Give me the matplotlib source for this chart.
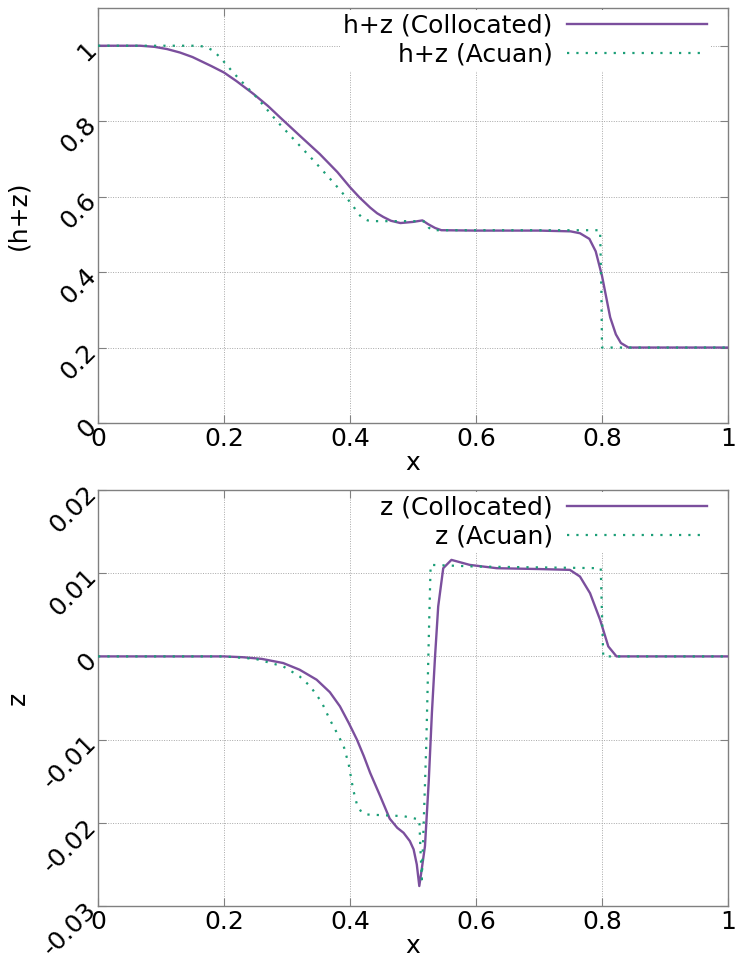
import matplotlib
matplotlib.use("Agg")
import matplotlib.pyplot as plt
import numpy as np

plt.rcParams['font.family'] = ['DejaVu Sans']

# ---- data: top panel (h+z) ----
hz_col_x = [0, 0.067, 0.09, 0.11, 0.13, 0.15, 0.165, 0.18, 0.2, 0.22, 0.247, 0.27, 0.289,
            0.32, 0.352, 0.38, 0.4, 0.415, 0.432, 0.443, 0.453, 0.465, 0.48, 0.50, 0.515,
            0.524, 0.535, 0.545, 0.6, 0.7, 0.75, 0.765, 0.78, 0.79, 0.80, 0.813, 0.822,
            0.83, 0.842, 0.9, 1.0]
hz_col_y = [1.0, 1.0, 0.997, 0.991, 0.982, 0.970, 0.958, 0.946, 0.929, 0.906, 0.872, 0.840,
            0.810, 0.762, 0.713, 0.665, 0.625, 0.598, 0.571, 0.556, 0.546, 0.536, 0.530,
            0.533, 0.537, 0.527, 0.517, 0.511, 0.510, 0.510, 0.508, 0.503, 0.488, 0.455,
            0.390, 0.280, 0.235, 0.212, 0.200, 0.200, 0.200]

hz_acu_x = [0, 0.16, 0.172, 0.183, 0.195, 0.215, 0.252, 0.284, 0.347, 0.375, 0.395, 0.405,
            0.413, 0.42, 0.428, 0.44, 0.5, 0.52, 0.525, 0.53, 0.6, 0.7, 0.797, 0.799,
            0.8, 0.801, 1.0]
hz_acu_y = [1.0, 1.0, 0.996, 0.987, 0.967, 0.928, 0.863, 0.800, 0.687, 0.635, 0.596, 0.575,
            0.555, 0.543, 0.537, 0.535, 0.535, 0.534, 0.518, 0.511, 0.511, 0.511, 0.511,
            0.350, 0.200, 0.200, 0.200]

# ---- data: bottom panel (z) ----
z_col_x = [0, 0.2, 0.23, 0.26, 0.294, 0.32, 0.347, 0.368, 0.384, 0.398, 0.411, 0.422, 0.432,
           0.448, 0.463, 0.475, 0.485, 0.495, 0.501, 0.506, 0.510, 0.514, 0.519, 0.525,
           0.530, 0.535, 0.540, 0.548, 0.561, 0.59, 0.633, 0.70, 0.749, 0.765, 0.781,
           0.797, 0.810, 0.823, 1.0]
z_col_y = [0, 0, -0.0001, -0.0003, -0.0008, -0.0016, -0.0028, -0.0043, -0.0060, -0.0080,
           -0.0100, -0.0120, -0.0140, -0.0168, -0.0195, -0.0206, -0.0212, -0.0222, -0.0232,
           -0.0250, -0.0276, -0.0255, -0.0228, -0.0150, -0.0068, 0.0, 0.0060, 0.0106,
           0.0116, 0.0110, 0.0106, 0.0105, 0.0104, 0.0096, 0.0076, 0.0044, 0.0012, 0.0, 0.0]

z_acu_x = [0, 0.2, 0.25, 0.294, 0.32, 0.337, 0.355, 0.368, 0.38, 0.39, 0.398, 0.405, 0.411,
           0.418, 0.426, 0.485, 0.510, 0.512, 0.514, 0.521, 0.526, 0.528, 0.6, 0.7, 0.798,
           0.800, 0.802, 1.0]
z_acu_y = [0, 0, -0.0003, -0.0012, -0.0024, -0.0036, -0.0055, -0.0076, -0.0093, -0.0108,
           -0.0130, -0.0160, -0.0178, -0.0187, -0.0190, -0.0192, -0.0196, -0.0235, -0.0268,
           -0.0108, 0.0052, 0.0110, 0.0108, 0.0107, 0.0106, 0.0050, 0.0, 0.0]

xticks = [0, 0.2, 0.4, 0.6, 0.8, 1.0]
xticklabels = ['0', '0.2', '0.4', '0.6', '0.8', '1']
top_yticks = [0, 0.2, 0.4, 0.6, 0.8, 1.0]
top_yticklabels = ['0', '0.2', '0.4', '0.6', '0.8', '1']
bot_yticks = [-0.03, -0.02, -0.01, 0, 0.01, 0.02]
bot_yticklabels = ['-0.03', '-0.02', '-0.01', '0', '0.01', '0.02']

PURPLE = '#7b4f9d'
GREEN = '#1b9e77'
FS = 18

fig = plt.figure(figsize=(7.37, 9.6), dpi=100)
ax1 = fig.add_axes([98/737, 1-423/960, 630/737, 415/960])
ax2 = fig.add_axes([98/737, 1-906/960, 630/737, 416/960])


def style(ax, yticks, yticklabels, ylim, ylabel, labels, xs, ys):
    ax.set_axisbelow(True)
    ax.plot(xs[0], ys[0], color=PURPLE, lw=1.7, label=labels[0], zorder=3)
    ax.plot(xs[1], ys[1], color=GREEN, lw=1.6, linestyle=(0, (1, 3.2)),
            label=labels[1], zorder=3)
    ax.set_xlim(0, 1)
    ax.set_ylim(*ylim)
    ax.set_xticks(xticks)
    ax.set_xticklabels(xticklabels, fontsize=FS)
    ax.set_yticks(yticks)
    ax.set_yticklabels(yticklabels, fontsize=FS, rotation=45,
                       rotation_mode='anchor', ha='right', va='center')
    ax.tick_params(direction='in', length=6, width=0.8, color='#808080',
                   top=True, right=True, pad=4)
    ax.tick_params(axis='x', pad=3)
    for s in ax.spines.values():
        s.set_color('#808080')
        s.set_linewidth(1.0)
    ax.grid(True, color='#a8a8a8', linestyle=(0, (1, 1.5)), linewidth=0.7)
    ax.set_xlabel('x', fontsize=FS, labelpad=0)
    ax.set_ylabel(ylabel, fontsize=FS)
    ax.yaxis.set_label_coords(-0.108, 0.5)
    leg = ax.legend(loc='upper right', bbox_to_anchor=(0.972, 0.995),
                    markerfirst=False, fontsize=FS, frameon=True,
                    framealpha=1, edgecolor='none', facecolor='white',
                    handlelength=5.6, handletextpad=0.55, labelspacing=0.2,
                    borderpad=0.15, borderaxespad=0, fancybox=False)
    leg.set_zorder(2)
    return leg


style(ax1, top_yticks, top_yticklabels, (0, 1.1), '(h+z)',
      ['h+z (Collocated)', 'h+z (Acuan)'], [hz_col_x, hz_acu_x], [hz_col_y, hz_acu_y])
style(ax2, bot_yticks, bot_yticklabels, (-0.03, 0.02), 'z',
      ['z (Collocated)', 'z (Acuan)'], [z_col_x, z_acu_x], [z_col_y, z_acu_y])

fig.savefig('out.png', dpi=100)
